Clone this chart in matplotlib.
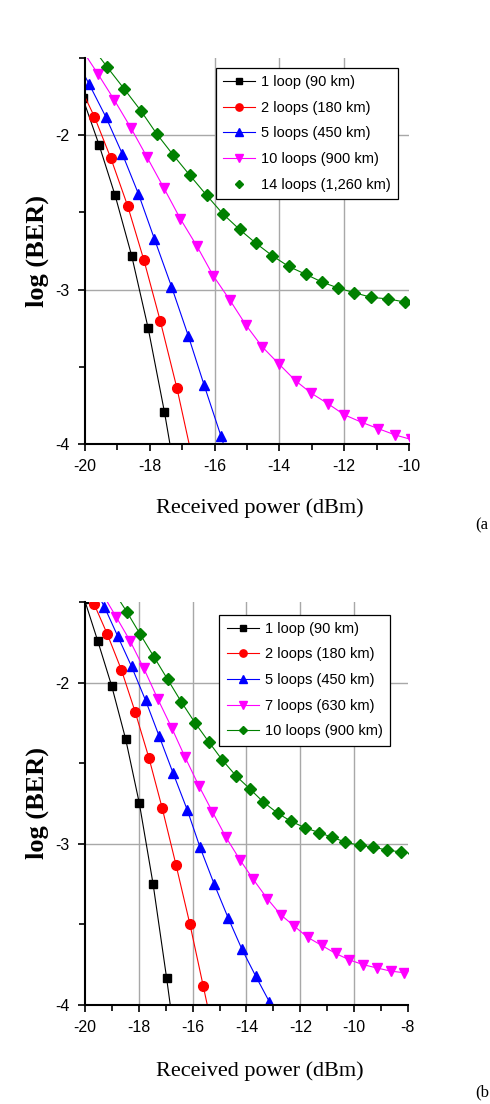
import matplotlib
matplotlib.use("Agg")
import matplotlib.pyplot as plt
from matplotlib.ticker import MultipleLocator

plt.rcParams["axes.unicode_minus"] = False

# ---- panel (a) ----
a_labels = ["1 loop (90 km)", "2 loops (180 km)", "5 loops (450 km)",
            "10 loops (900 km)", "14 loops (1,260 km)"]
a_x1 = [-20.07, -19.57, -19.07, -18.56, -18.05, -17.55, -17.05]
a_y1 = [-1.76, -2.06, -2.39, -2.78, -3.25, -3.79, -4.40]
a_x2 = [-20.21, -19.71, -19.20, -18.68, -18.18, -17.68, -17.16, -16.66]
a_y2 = [-1.66, -1.88, -2.15, -2.46, -2.81, -3.20, -3.64, -4.12]
a_x5 = [-20.37, -19.87, -19.36, -18.85, -18.35, -17.86, -17.33, -16.81,
        -16.32, -15.80, -15.30]
a_y5 = [-1.47, -1.67, -1.88, -2.12, -2.38, -2.67, -2.98, -3.30, -3.62,
        -3.95, -4.28]
a_x10 = [-20.11, -19.61, -19.10, -18.59, -18.09, -17.57, -17.06, -16.54,
         -16.04, -15.52, -15.03, -14.53, -14.02, -13.50, -13.02, -12.49,
         -12.00, -11.45, -10.95, -10.44, -9.94]
a_y10 = [-1.44, -1.60, -1.77, -1.95, -2.14, -2.34, -2.54, -2.72, -2.91,
         -3.07, -3.23, -3.37, -3.48, -3.59, -3.67, -3.74, -3.81, -3.86,
         -3.90, -3.94, -3.97]
a_x14 = [-19.81, -19.31, -18.79, -18.28, -17.79, -17.27, -16.76, -16.24,
         -15.74, -15.23, -14.72, -14.22, -13.71, -13.19, -12.69, -12.18,
         -11.68, -11.16, -10.64, -10.13, -9.63]
a_y14 = [-1.42, -1.56, -1.70, -1.84, -1.99, -2.13, -2.26, -2.39, -2.51,
         -2.61, -2.70, -2.78, -2.85, -2.90, -2.95, -2.99, -3.02, -3.05,
         -3.06, -3.08, -3.10]

# ---- panel (b) ----
b_labels = ["1 loop (90 km)", "2 loops (180 km)", "5 loops (450 km)",
            "7 loops (630 km)", "10 loops (900 km)"]
b_x1 = [-20.03, -19.53, -19.01, -18.49, -17.98, -17.47, -16.97, -16.47]
b_y1 = [-1.48, -1.74, -2.02, -2.35, -2.75, -3.25, -3.83, -4.45]
b_x2 = [-20.17, -19.67, -19.17, -18.65, -18.14, -17.62, -17.13, -16.62,
        -16.10, -15.61, -15.11]
b_y2 = [-1.40, -1.51, -1.70, -1.92, -2.18, -2.47, -2.78, -3.13, -3.50,
        -3.88, -4.27]
b_x5 = [-19.78, -19.28, -18.79, -18.27, -17.75, -17.25, -16.73, -16.20,
        -15.73, -15.20, -14.68, -14.18, -13.66, -13.15, -12.65]
b_y5 = [-1.37, -1.53, -1.71, -1.90, -2.11, -2.33, -2.56, -2.79, -3.02,
        -3.25, -3.46, -3.65, -3.82, -3.98, -4.15]
b_x7 = [-19.35, -18.85, -18.33, -17.82, -17.30, -16.78, -16.29, -15.77,
        -15.27, -14.76, -14.24, -13.75, -13.23, -12.73, -12.23, -11.73,
        -11.21, -10.69, -10.18, -9.66, -9.16, -8.64, -8.14]
b_y7 = [-1.45, -1.59, -1.74, -1.91, -2.10, -2.28, -2.46, -2.64, -2.80,
        -2.96, -3.10, -3.22, -3.34, -3.44, -3.51, -3.58, -3.63, -3.68,
        -3.72, -3.75, -3.77, -3.79, -3.80]
b_x10 = [-18.95, -18.45, -17.95, -17.44, -16.93, -16.42, -15.91, -15.39,
         -14.90, -14.38, -13.87, -13.38, -12.84, -12.35, -11.83, -11.31,
         -10.81, -10.32, -9.78, -9.29, -8.77, -8.26, -7.76]
b_y10 = [-1.43, -1.56, -1.70, -1.84, -1.98, -2.12, -2.25, -2.37, -2.48,
         -2.58, -2.66, -2.74, -2.81, -2.86, -2.90, -2.93, -2.96, -2.99,
         -3.01, -3.02, -3.04, -3.05, -3.06]

COLORS = ["black", "red", "blue", "magenta", "green"]
MARKERS = ["s", "o", "^", "v", "D"]
MSIZES = [6, 7, 7, 7.5, 6]
SANS = ["Liberation Sans", "DejaVu Sans"]
SERIF = ["Liberation Serif", "DejaVu Serif"]


def panel(ax, series, labels, xmax, xgrid, legend_xy):
    for (x, y), lab, c, m, ms in zip(series, labels, COLORS, MARKERS, MSIZES):
        ax.plot(x, y, color=c, marker=m, markersize=ms, linewidth=0.8,
                label=lab)

    ax.set_xlim(-20, xmax)
    ax.set_ylim(-4, -1.5)
    ax.xaxis.set_major_locator(MultipleLocator(2))
    ax.xaxis.set_minor_locator(MultipleLocator(1))
    ax.set_yticks([-4, -3, -2])
    ax.yaxis.set_minor_locator(MultipleLocator(0.5))

    for v in xgrid:
        ax.axvline(v, color="#a8a8a8", linewidth=1, zorder=0)
    for v in [-2, -3]:
        ax.axhline(v, color="#a8a8a8", linewidth=1, zorder=0)

    for s in ["top", "right"]:
        ax.spines[s].set_visible(False)
    for s in ["left", "bottom"]:
        ax.spines[s].set_linewidth(1.5)

    ax.tick_params(which="both", direction="out", width=1.2)
    ax.tick_params(which="major", length=5, pad=6)
    ax.tick_params(which="minor", length=4)
    for t in ax.get_xticklabels() + ax.get_yticklabels():
        t.set_family(SANS)
        t.set_fontsize(11.5)

    ax.set_xlabel("Received power (dBm)", family=SERIF, fontsize=16)
    ax.set_ylabel("log (BER)", family=SERIF, fontsize=19, fontweight="bold")
    ax.xaxis.set_label_coords(0.54, -0.14)
    ax.yaxis.set_label_coords(-0.11, 0.5)

    leg = ax.legend(loc="upper left", bbox_to_anchor=legend_xy,
                    borderaxespad=0, fancybox=False, edgecolor="black",
                    framealpha=1, numpoints=1, markerscale=0.75,
                    handlelength=2.2, handletextpad=0.4, labelspacing=0.8,
                    borderpad=0.5, prop={"family": SANS, "size": 10.5})
    leg.get_frame().set_linewidth(0.9)
    return leg


fig = plt.figure(figsize=(4.9, 11.04), dpi=100)

ax1 = fig.add_axes([0.1735, 0.5978, 0.661, 0.3496])
series_a = [(a_x1, a_y1), (a_x2, a_y2), (a_x5, a_y5), (a_x10, a_y10),
            (a_x14, a_y14)]
leg = panel(ax1, series_a, a_labels, -10, [-16, -14, -12], (0.403, 0.975))
leg.legend_handles[4].set_linestyle("none")

ax2 = fig.add_axes([0.1735, 0.0897, 0.659, 0.365])
series_b = [(b_x1, b_y1), (b_x2, b_y2), (b_x5, b_y5), (b_x7, b_y7),
            (b_x10, b_y10)]
panel(ax2, series_b, b_labels, -8, [-18, -16, -14, -12, -10], (0.416, 0.969))

fig.text(475 / 490, 1 - 525 / 1104, "(a", family=SERIF, fontsize=12,
         va="center", ha="left")
fig.text(475 / 490, 1 - 1092 / 1104, "(b", family=SERIF, fontsize=12,
         va="center", ha="left")

fig.savefig("out.png", dpi=100)
